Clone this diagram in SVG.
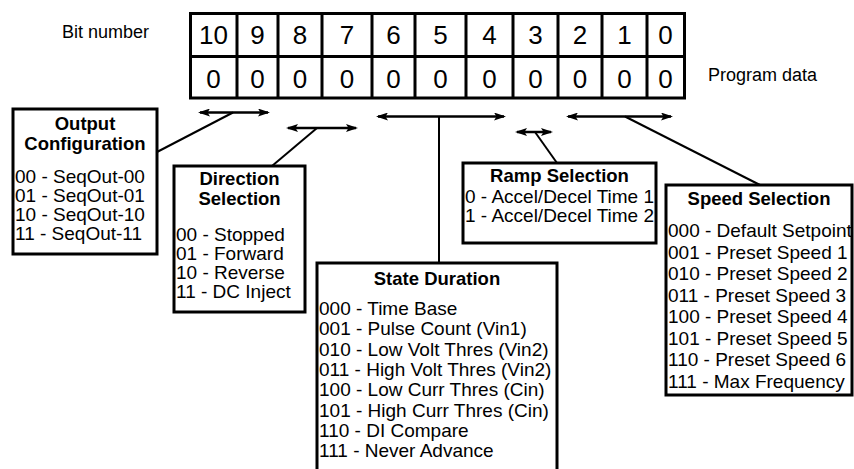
<svg xmlns="http://www.w3.org/2000/svg" width="854" height="469" viewBox="0 0 854 469">
<defs>
<marker id="ah" viewBox="0 0 12 8" refX="10" refY="4" markerWidth="12" markerHeight="8" markerUnits="userSpaceOnUse" orient="auto-start-reverse">
<path d="M0,0 L12,4 L0,8 L2.5,4 z" fill="#000"/>
</marker>
</defs>
<style>
text{font-family:"Liberation Sans",Arial,Helvetica,sans-serif;fill:#000}
.lbl{font-size:18px}
.dig{font-size:26px;text-anchor:middle}
.ttl{font-size:18.5px;font-weight:bold;text-anchor:middle}
.itm{font-size:19px}
.box{fill:#fff;stroke:#000;stroke-width:3}
.grid{fill:none;stroke:#000;stroke-width:3}
.arr{fill:none;stroke:#000;stroke-width:2.5;marker-start:url(#ah);marker-end:url(#ah)}
.con{fill:none;stroke:#000;stroke-width:2}
</style>
<rect width="854" height="469" fill="#fff"/>

<g id="labels">
<text class="lbl" x="62" y="38">Bit number</text>
<text class="lbl" x="708" y="81">Program data</text>
</g>

<g id="register">
<rect class="grid" x="190.5" y="13.5" width="494" height="84.5"/>
<path class="grid" d="M190.5,56.5H684.5 M237,13.5V98 M278,13.5V98 M322,13.5V98 M372,13.5V98 M415,13.5V98 M466,13.5V98 M513,13.5V98 M558,13.5V98 M602,13.5V98 M647,13.5V98"/>
<text class="dig" x="213.5" y="44">10</text>
<text class="dig" x="257.5" y="44">9</text>
<text class="dig" x="300" y="44">8</text>
<text class="dig" x="347" y="44">7</text>
<text class="dig" x="393.5" y="44">6</text>
<text class="dig" x="440.5" y="44">5</text>
<text class="dig" x="489.5" y="44">4</text>
<text class="dig" x="535.5" y="44">3</text>
<text class="dig" x="580" y="44">2</text>
<text class="dig" x="624.5" y="44">1</text>
<text class="dig" x="665.5" y="44">0</text>
<text class="dig" x="213.5" y="88">0</text>
<text class="dig" x="257.5" y="88">0</text>
<text class="dig" x="300" y="88">0</text>
<text class="dig" x="347" y="88">0</text>
<text class="dig" x="393.5" y="88">0</text>
<text class="dig" x="440.5" y="88">0</text>
<text class="dig" x="489.5" y="88">0</text>
<text class="dig" x="535.5" y="88">0</text>
<text class="dig" x="580" y="88">0</text>
<text class="dig" x="624.5" y="88">0</text>
<text class="dig" x="665.5" y="88">0</text>
</g>

<g id="connectors">
<line class="arr" x1="200" y1="112.5" x2="268" y2="112.5"/>
<line class="con" x1="157" y1="152" x2="233" y2="112.5"/>
<line class="arr" x1="288" y1="128" x2="356" y2="128"/>
<line class="con" x1="317" y1="128" x2="272" y2="166"/>
<line class="arr" x1="378" y1="116.5" x2="504" y2="116.5"/>
<line class="con" x1="439" y1="116.5" x2="439" y2="263"/>
<line class="arr" x1="517" y1="132" x2="551" y2="132"/>
<line class="con" x1="535" y1="132" x2="557" y2="163"/>
<line class="arr" x1="568" y1="116.5" x2="671" y2="116.5"/>
<line class="con" x1="625" y1="116.5" x2="760" y2="185"/>
</g>

<g id="output-configuration">
<rect class="box" x="13" y="109" width="144" height="145"/>
<text class="ttl" x="85" y="130">Output</text>
<text class="ttl" x="85" y="150">Configuration</text>
<text class="itm" x="15" y="183">00 - SeqOut-00</text>
<text class="itm" x="15" y="202">01 - SeqOut-01</text>
<text class="itm" x="15" y="221">10 - SeqOut-10</text>
<text class="itm" x="15" y="240">11 - SeqOut-11</text>
</g>

<g id="direction-selection">
<rect class="box" x="174" y="166" width="131" height="146"/>
<text class="ttl" x="239.5" y="185">Direction</text>
<text class="ttl" x="239.5" y="205">Selection</text>
<text class="itm" x="176" y="241">00 - Stopped</text>
<text class="itm" x="176" y="260">01 - Forward</text>
<text class="itm" x="176" y="279">10 - Reverse</text>
<text class="itm" x="176" y="298">11 - DC Inject</text>
</g>

<g id="ramp-selection">
<rect class="box" x="463" y="163" width="193" height="80"/>
<text class="ttl" x="559.5" y="182">Ramp Selection</text>
<text class="itm" x="465" y="203">0 - Accel/Decel Time 1</text>
<text class="itm" x="465" y="222">1 - Accel/Decel Time 2</text>
</g>

<g id="state-duration">
<rect class="box" x="317" y="263" width="240" height="216"/>
<text class="ttl" x="437" y="285">State Duration</text>
<text class="itm" x="319" y="315">000 - Time Base</text>
<text class="itm" x="319" y="335.3">001 - Pulse Count (Vin1)</text>
<text class="itm" x="319" y="355.6">010 - Low Volt Thres (Vin2)</text>
<text class="itm" x="319" y="375.9">011 - High Volt Thres (Vin2)</text>
<text class="itm" x="319" y="396.2">100 - Low Curr Thres (Cin)</text>
<text class="itm" x="319" y="416.5">101 - High Curr Thres (Cin)</text>
<text class="itm" x="319" y="436.8">110 - DI Compare</text>
<text class="itm" x="319" y="457.1">111 - Never Advance</text>
</g>

<g id="speed-selection">
<rect class="box" x="666" y="185" width="186" height="210"/>
<text class="ttl" x="759" y="205">Speed Selection</text>
<text class="itm" x="668" y="237">000 - Default Setpoint</text>
<text class="itm" x="668" y="258.5">001 - Preset Speed 1</text>
<text class="itm" x="668" y="280">010 - Preset Speed 2</text>
<text class="itm" x="668" y="301.5">011 - Preset Speed 3</text>
<text class="itm" x="668" y="323">100 - Preset Speed 4</text>
<text class="itm" x="668" y="344.5">101 - Preset Speed 5</text>
<text class="itm" x="668" y="366">110 - Preset Speed 6</text>
<text class="itm" x="668" y="387.5">111 - Max Frequency</text>
</g>
</svg>
